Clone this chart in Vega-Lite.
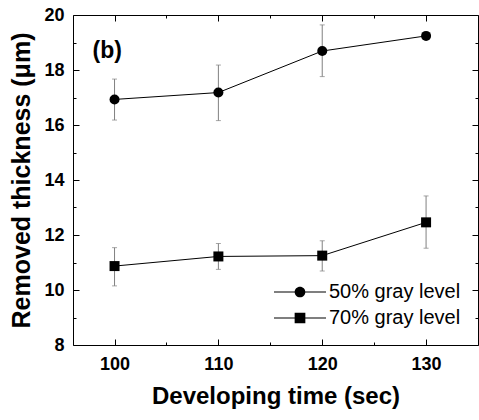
{
  "$schema": "https://vega.github.io/schema/vega-lite/v6.json",
  "width": 405,
  "height": 330,
  "autosize": "none",
  "padding": {"left": 73, "top": 15, "right": 1, "bottom": 75},
  "config": {
    "font": "Liberation Sans",
    "view": {"stroke": "black", "strokeWidth": 1},
    "axis": {"grid": false, "domain": false, "tickColor": "black", "tickWidth": 1, "labelColor": "black", "titleColor": "black"}
  },
  "datasets": {
    "pts": [
      {"time": 100, "group": "50% gray level", "value": 16.93, "lo": 16.18, "hi": 17.67},
      {"time": 110, "group": "50% gray level", "value": 17.18, "lo": 16.16, "hi": 18.18},
      {"time": 120, "group": "50% gray level", "value": 18.69, "lo": 17.76, "hi": 19.64},
      {"time": 130, "group": "50% gray level", "value": 19.24, "lo": 19.12, "hi": 19.36},
      {"time": 100, "group": "70% gray level", "value": 10.87, "lo": 10.15, "hi": 11.54},
      {"time": 110, "group": "70% gray level", "value": 11.22, "lo": 10.75, "hi": 11.69},
      {"time": 120, "group": "70% gray level", "value": 11.25, "lo": 10.69, "hi": 11.79},
      {"time": 130, "group": "70% gray level", "value": 12.46, "lo": 11.52, "hi": 13.42}
    ],
    "lab": [{"x": 99.3, "y": 18.7, "text": "(b)"}]
  },
  "data": {"name": "pts"},
  "layer": [
    {
      "mark": {"type": "rule", "color": "#808080", "strokeWidth": 1},
      "encoding": {
        "x": {"field": "time", "type": "quantitative",
          "scale": {"domain": [96, 135], "nice": false, "zero": false},
          "axis": {"orient": "bottom", "values": [100, 110, 120, 130], "ticks": false,
            "labelFontSize": 18, "labelFontWeight": "bold", "labelPadding": 10,
            "title": "Developing time (sec)", "titleFontSize": 24, "titleFontWeight": "bold", "titlePadding": 11}},
        "y": {"field": "lo", "type": "quantitative",
          "scale": {"domain": [8, 20], "nice": false, "zero": false},
          "axis": {"orient": "left", "values": [8, 10, 12, 14, 16, 18, 20], "ticks": false,
            "labelFontSize": 18, "labelFontWeight": "bold", "labelPadding": 9,
            "title": "Removed thickness (μm)", "titleFontSize": 25, "titleFontWeight": "bold", "titlePadding": 9}},
        "y2": {"field": "hi"}
      }
    },
    {
      "mark": {"type": "tick", "orient": "horizontal", "color": "#808080", "size": 5, "thickness": 1},
      "encoding": {
        "x": {"field": "time", "type": "quantitative",
          "axis": {"orient": "top", "offset": -330, "values": [100, 110, 120, 130], "labels": false, "tickSize": 6, "title": null}},
        "y": {"field": "lo", "type": "quantitative",
          "axis": {"orient": "right", "offset": -405, "values": [8, 10, 12, 14, 16, 18, 20], "labels": false, "tickSize": 6, "title": null}}
      }
    },
    {
      "mark": {"type": "tick", "orient": "horizontal", "color": "#808080", "size": 5, "thickness": 1},
      "encoding": {
        "x": {"field": "time", "type": "quantitative",
          "axis": {"orient": "bottom", "offset": -330, "values": [100, 110, 120, 130], "labels": false, "tickSize": 6, "title": null}},
        "y": {"field": "hi", "type": "quantitative",
          "axis": {"orient": "left", "offset": -405, "values": [8, 10, 12, 14, 16, 18, 20], "labels": false, "tickSize": 6, "title": null}}
      }
    },
    {
      "mark": {"type": "line", "color": "black", "strokeWidth": 1},
      "encoding": {
        "x": {"field": "time", "type": "quantitative",
          "axis": {"orient": "top", "offset": -330, "values": [105, 115, 125], "labels": false, "tickSize": 3, "title": null}},
        "y": {"field": "value", "type": "quantitative",
          "axis": {"orient": "right", "offset": -405, "values": [9, 11, 13, 15, 17, 19], "labels": false, "tickSize": 3, "title": null}},
        "detail": {"field": "group"}
      }
    },
    {
      "mark": {"type": "point", "filled": true, "color": "black", "opacity": 1, "size": 100},
      "encoding": {
        "x": {"field": "time", "type": "quantitative",
          "axis": {"orient": "bottom", "offset": -330, "values": [105, 115, 125], "labels": false, "tickSize": 3, "title": null}},
        "y": {"field": "value", "type": "quantitative",
          "axis": {"orient": "left", "offset": -405, "values": [9, 11, 13, 15, 17, 19], "labels": false, "tickSize": 3, "title": null}},
        "shape": {"field": "group", "type": "nominal",
          "scale": {"domain": ["50% gray level", "70% gray level"], "range": ["circle", "square"]},
          "legend": null}
      }
    },
    {
      "transform": [{"filter": "datum.time < 0"}],
      "mark": {"type": "point", "filled": true, "color": "black", "opacity": 1, "size": 100},
      "encoding": {
        "shape": {"field": "group", "type": "nominal",
          "scale": {"domain": ["50% gray level", "70% gray level"],
            "range": ["M-5.2,-0.1H5.2V0.1H-5.2ZM-1.07,0A1.07,1.07,0,1,1,1.07,0A1.07,1.07,0,1,1,-1.07,0Z", "M-5.2,-0.1H5.2V0.1H-5.2ZM-1.07,-1.07H1.07V1.07H-1.07Z"]},
          "legend": {
            "title": null, "orient": "none", "legendX": 217, "legendY": 267,
            "padding": 0, "labelFontSize": 20, "labelColor": "black", "labelOffset": 19,
            "rowPadding": 6, "symbolSize": 100, "symbolFillColor": "black", "symbolStrokeColor": "black",
            "symbolStrokeWidth": 1, "symbolOpacity": 1
          }}
      }
    },
    {
      "data": {"name": "lab"},
      "mark": {"type": "text", "fontSize": 23, "fontWeight": "bold", "color": "black", "baseline": "middle", "align": "center"},
      "encoding": {
        "x": {"field": "x", "type": "quantitative", "axis": null},
        "y": {"field": "y", "type": "quantitative", "axis": null},
        "text": {"field": "text"}
      }
    }
  ],
  "resolve": {"axis": {"x": "independent", "y": "independent"}, "scale": {"shape": "independent"}}
}
